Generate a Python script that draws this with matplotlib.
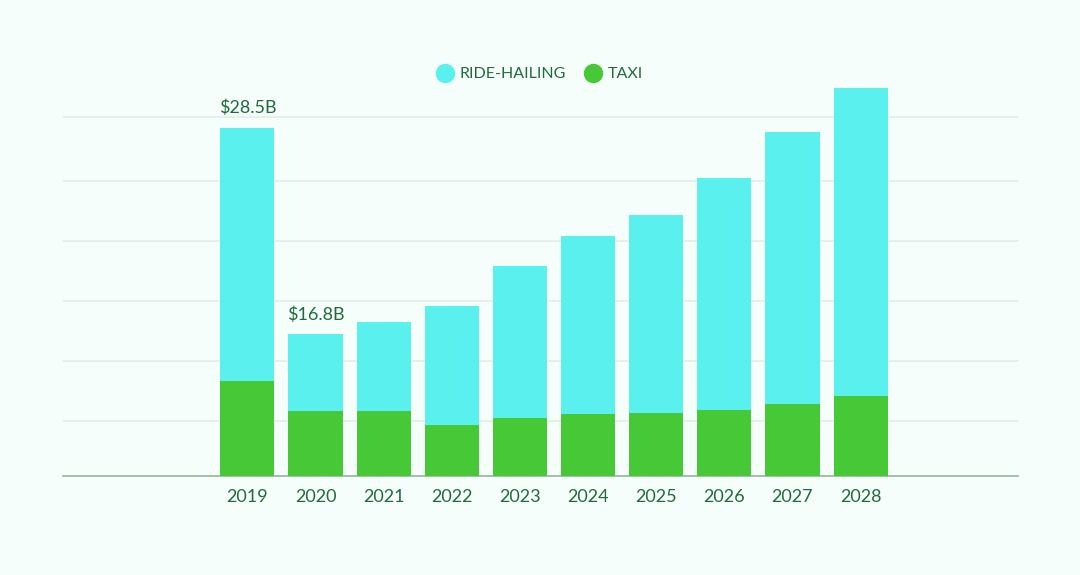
import matplotlib.pyplot as plt
from matplotlib.lines import Line2D
import numpy as np

years = ['2019', '2020', '2021', '2022', '2023', '2024', '2025', '2026', '2027', '2028']
taxi = [7.9, 5.4, 5.4, 4.2, 4.8, 5.1, 5.2, 5.5, 6.0, 6.6]
ride_hailing = [21.1, 6.4, 7.4, 9.9, 12.7, 14.9, 16.5, 19.3, 22.6, 25.7]
callouts = {0: '$28.5B', 1: '$16.8B'}

bg = '#f5fefa'
cyan = '#5af0ee'
green = '#46c837'
text_col = '#1f6b3b'
grid_col = '#e2eee8'

plt.rcParams['font.family'] = ['Lato', 'DejaVu Sans']

# 12 px per unit, baseline at y=475.5 px
y_top = 34.0
fig = plt.figure(figsize=(10.8, 5.75), dpi=100, facecolor=bg)
ax = fig.add_axes([63 / 1080, 1 - 475.5 / 575, (1018 - 63) / 1080, (y_top * 12) / 575])
ax.set_facecolor(bg)

x = np.arange(len(years))
w = 0.794
ax.bar(x, taxi, width=w, color=green, linewidth=0, zorder=3)
ax.bar(x, ride_hailing, width=w, bottom=taxi, color=cyan, linewidth=0, zorder=3)

totals = np.array(taxi) + np.array(ride_hailing)
for i, label in callouts.items():
    ax.annotate(label, (x[i], totals[i]), xytext=(0, 8), textcoords='offset points',
                ha='center', va='bottom', fontsize=13, color=text_col)

ax.set_xlim(-2.706, 11.31)
ax.set_ylim(0, y_top)
ax.set_yticks([4.54, 9.54, 14.54, 19.54, 24.54, 29.875])
ax.yaxis.grid(True, color=grid_col, linewidth=1.2, zorder=0)
ax.tick_params(axis='y', length=0, labelleft=False)
ax.set_xticks(x)
ax.set_xticklabels(years)
ax.tick_params(axis='x', length=0, pad=10, labelsize=13, labelcolor=text_col)

for s in ['left', 'right', 'top']:
    ax.spines[s].set_visible(False)
ax.spines['bottom'].set_color('#8fb59f')
ax.spines['bottom'].set_linewidth(1.2)

handles = [
    Line2D([], [], marker='o', linestyle='', markersize=13, color=cyan, label='RIDE-HAILING'),
    Line2D([], [], marker='o', linestyle='', markersize=13, color=green, label='TAXI'),
]
leg = fig.legend(handles=handles, loc='center', bbox_to_anchor=(0.5, 1 - 74 / 575), ncol=2,
                 frameon=False, fontsize=11.5, handletextpad=0.4, columnspacing=1.2,
                 handlelength=1.0)
for t in leg.get_texts():
    t.set_color(text_col)

fig.savefig('out.png', dpi=100, facecolor=bg)
